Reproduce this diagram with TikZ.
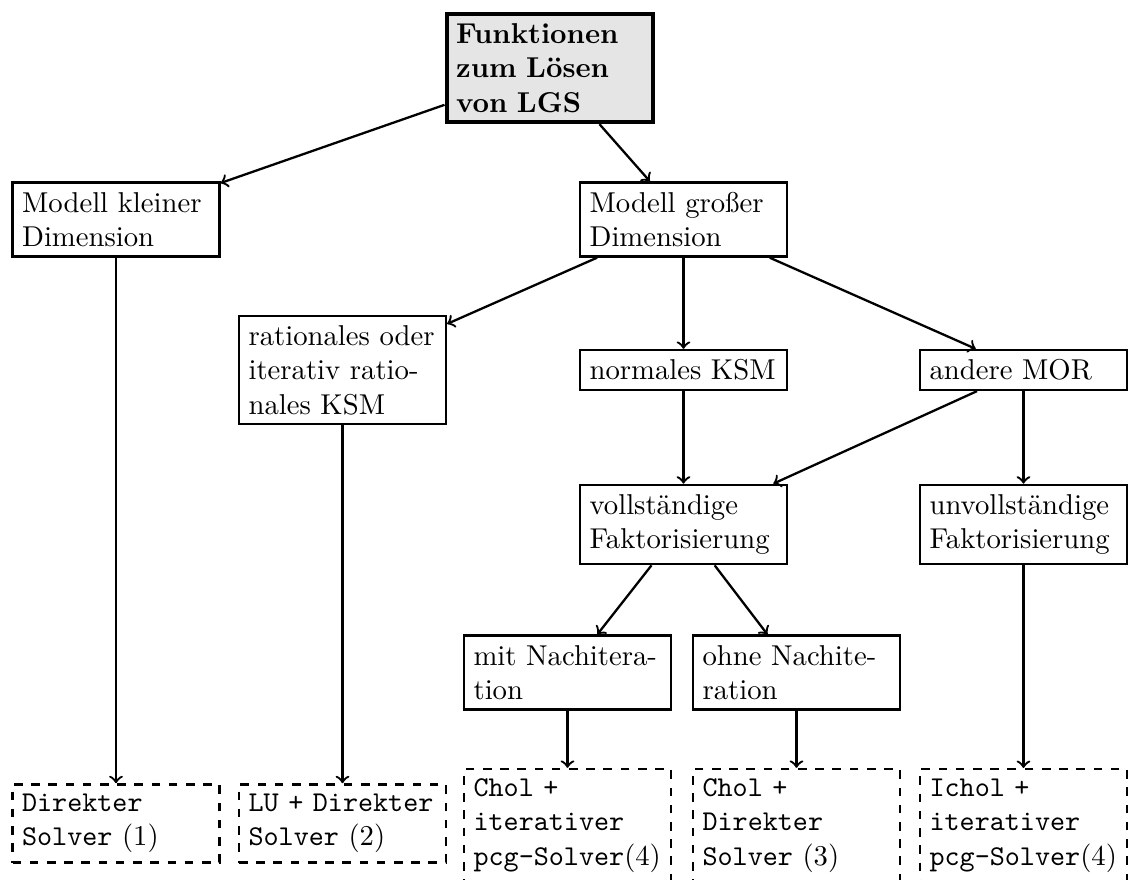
\documentclass[tikz,border=0pt]{standalone}
\begin{document}
\begin{tikzpicture}[x=0.34843pt,y=-0.34843pt,
  box/.style={draw, line width=0.8pt, text width=2.3cm, align=left, inner sep=3.33pt},
  rootbox/.style={box, line width=1.4pt, fill=black!10, font=\bfseries},
  solbox/.style={box, dashed},
  conn/.style={->, line width=0.8pt}]
\useasboundingbox (0,0) rectangle (1128,880);
\node[rootbox] (root) at (550,68) {Funktionen\\zum Lösen\\von LGS};
\node[box] (klein) at (116,219.5) {Modell kleiner\\Dimension};
\node[box] (gross) at (683.5,219.5) {Modell großer\\Dimension};
\node[box] (rat) at (342.5,370) {rationales oder\\iterativ ratio-\\nales KSM};
\node[box] (ksm) at (683.5,370) {normales KSM};
\node[box] (mor) at (1023.5,370) {andere MOR};
\node[box] (voll) at (683.5,524.5) {vollständige\\Faktorisierung};
\node[box] (unvoll) at (1023.5,524.5) {unvollständige\\Faktorisierung};
\node[box] (mit) at (567.5,672.5) {mit Nachitera-\\tion};
\node[box] (ohne) at (796.5,672.5) {ohne Nachite-\\ration};
\node[solbox] (s1) at (116,823.5) {\texttt{Direkter}\\\texttt{Solver} $(1)$};
\node[solbox] (s2) at (342.5,823.5) {\texttt{LU} \texttt{+} \texttt{Direkter}\\\texttt{Solver} $(2)$};
\node[solbox] (s3) at (567.5,825.5) {\texttt{Chol} \texttt{+}\\\texttt{iterativer}\\\texttt{pcg-Solver}$(4)$};
\node[solbox] (s4) at (796.5,825.5) {\texttt{Chol} \texttt{+}\\\texttt{Direkter}\\\texttt{Solver} $(3)$};
\node[solbox] (s5) at (1023.5,825.5) {\texttt{Ichol} \texttt{+}\\\texttt{iterativer}\\\texttt{pcg-Solver}$(4)$};
\draw[conn] (root) -- (klein);
\draw[conn] (root) -- (gross);
\draw[conn] (klein) -- (s1);
\draw[conn] (gross) -- (rat);
\draw[conn] (gross) -- (ksm);
\draw[conn] (gross) -- (mor);
\draw[conn] (rat) -- (s2);
\draw[conn] (ksm) -- (voll);
\draw[conn] (mor) -- (voll);
\draw[conn] (mor) -- (unvoll);
\draw[conn] (voll) -- (mit);
\draw[conn] (voll) -- (ohne);
\draw[conn] (mit) -- (s3);
\draw[conn] (ohne) -- (s4);
\draw[conn] (unvoll) -- (s5);
\end{tikzpicture}
\end{document}
